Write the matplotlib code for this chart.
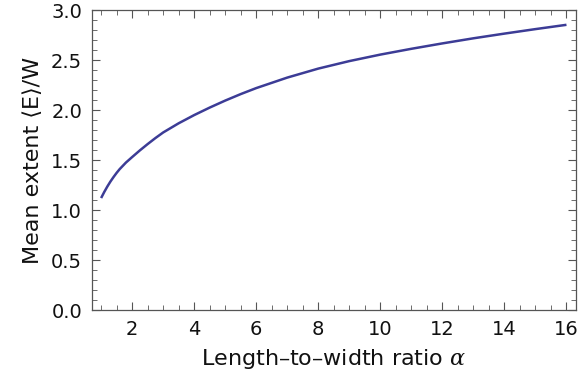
import matplotlib
matplotlib.use('Agg')
import matplotlib.pyplot as plt
from matplotlib.ticker import MultipleLocator

# mean extent vs length-to-width ratio
alpha = [1.0, 1.1, 1.2, 1.3, 1.4, 1.5, 1.6, 1.8, 2.0, 2.25, 2.5, 2.75, 3.0,
         3.5, 4.0, 4.5, 5.0, 5.5, 6.0, 7.0, 8.0, 9.0, 10.0, 11.0, 12.0,
         13.0, 14.0, 15.0, 16.0]
extent = [1.12, 1.18, 1.235, 1.285, 1.33, 1.372, 1.41, 1.475, 1.53, 1.597,
          1.66, 1.72, 1.776, 1.868, 1.95, 2.025, 2.095, 2.16, 2.22, 2.325,
          2.415, 2.49, 2.555, 2.613, 2.667, 2.718, 2.765, 2.81, 2.853]

plt.rcParams['font.family'] = ['DejaVu Sans']
plt.rcParams['mathtext.fontset'] = 'dejavuserif'

fig = plt.figure(figsize=(5.81, 3.89), dpi=100)
ax = fig.add_axes([0.158, 0.203, 0.833, 0.771])

ax.plot(alpha, extent, color='#3c3c96', lw=1.8, solid_capstyle='butt',
        solid_joinstyle='round')

ax.set_xlim(0.7, 16.3)
ax.set_ylim(0, 3.0)
ax.xaxis.set_major_locator(MultipleLocator(2))
ax.xaxis.set_minor_locator(MultipleLocator(0.5))
ax.yaxis.set_minor_locator(MultipleLocator(0.1))
ax.set_yticks([0, 0.5, 1.0, 1.5, 2.0, 2.5, 3.0])
ax.set_yticklabels(['0.0', '0.5', '1.0', '1.5', '2.0', '2.5', '3.0'])

for s in ax.spines.values():
    s.set_color('#555555')
    s.set_linewidth(0.9)
ax.tick_params(which='both', direction='in', top=True, right=True,
               color='#555555', labelsize=14, labelcolor='#111111')
ax.tick_params(which='major', length=6, width=0.8, pad=7)
ax.tick_params(which='minor', length=3.5, width=0.6)

ax.set_xlabel('Length\u2013to\u2013width ratio $\\alpha$', fontsize=16,
              labelpad=6, color='#111111')
ax.set_ylabel('Mean extent \u27e8E\u27e9/W', fontsize=16, labelpad=6,
              color='#111111')

fig.savefig('out.png', dpi=100)
